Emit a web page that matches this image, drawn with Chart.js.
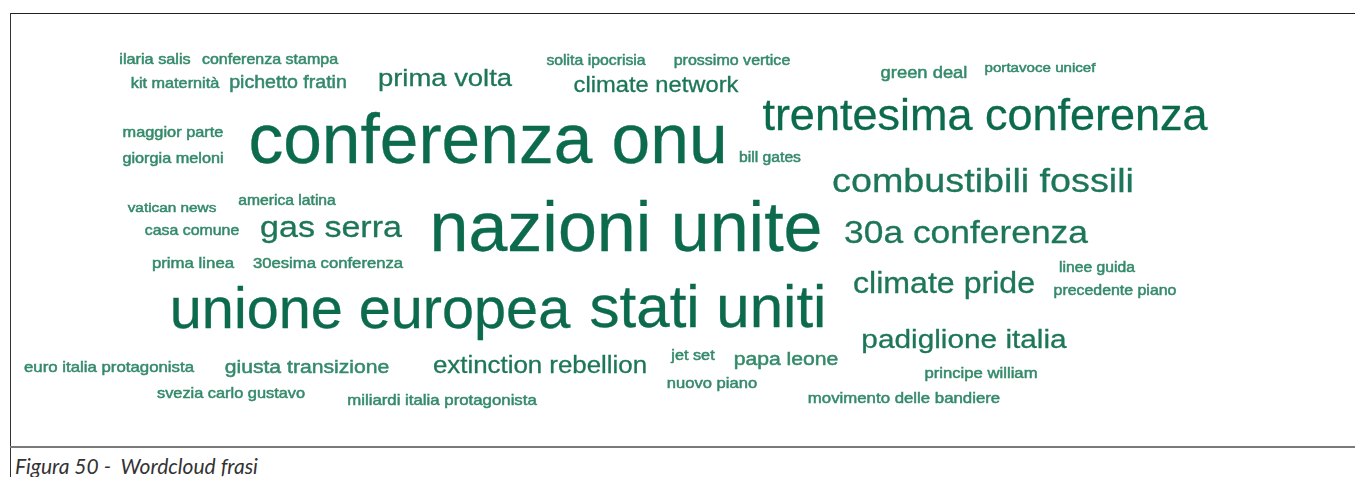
<!DOCTYPE html>
<html>
<head>
    <title>Wordcloud frasi</title>
    <script src="https://cdn.jsdelivr.net/npm/chart.js"></script>
    <style>
        body { margin: 0; background: #fff; width: 1355px; height: 477px; overflow: hidden; position: relative; }
        #wrap { position: absolute; left: 0; top: 0; width: 1355px; height: 447px; }
        .topline { position: absolute; left: 10px; top: 13px; width: 1345px; height: 0; border-top: 1.5px solid #222; }
        .leftline { position: absolute; left: 10px; top: 13px; width: 0; height: 464px; border-left: 1.5px solid #333; }
        .bottomline { position: absolute; left: 10px; top: 446px; width: 1345px; height: 0; border-top: 2px solid #7a7a7a; }
        .caption { position: absolute; left: 15px; top: 453px; font-family: Lato, "Open Sans", sans-serif; font-style: italic; font-size: 21px; color: #333; white-space: pre; }
    </style>
</head>
<body>
    <div id="wrap"><canvas id="cloud"></canvas></div>
    <div class="topline"></div>
    <div class="leftline"></div>
    <div class="bottomline"></div>
    <div class="caption">Figura 50 -  Wordcloud frasi</div>
    <script>
        // phrases and their weight (font size in px)
        const words = [
            'ilaria salis', 'conferenza stampa', 'kit maternità', 'pichetto fratin', 'prima volta',
            'solita ipocrisia', 'prossimo vertice', 'climate network', 'green deal', 'portavoce unicef',
            'maggior parte', 'giorgia meloni', 'conferenza onu', 'bill gates', 'trentesima conferenza',
            'combustibili fossili', 'vatican news', 'america latina', 'casa comune', 'gas serra',
            'prima linea', '30esima conferenza', 'nazioni unite', '30a conferenza', 'climate pride',
            'linee guida', 'precedente piano', 'unione europea', 'stati uniti', 'padiglione italia',
            'euro italia protagonista', 'giusta transizione', 'svezia carlo gustavo', 'extinction rebellion',
            'miliardi italia protagonista', 'jet set', 'nuovo piano', 'papa leone', 'principe william',
            'movimento delle bandiere'
        ];
        const weights = [
            14.5, 14.3, 14.5, 17.5, 24.5,
            14.1, 14.3, 21.2, 16.4, 13.5,
            14.6, 14.5, 69.5, 14, 45,
            33.7, 13.7, 14, 14.2, 30.4,
            15, 14.9, 70, 31.6, 28.7,
            14, 14.2, 57.6, 60, 26.6,
            15, 18.9, 14.6, 23.1,
            15, 14.5, 14.8, 18.9, 14.9,
            15
        ];
        // centre x and baseline y of every phrase (page pixels)
        const xs = [
            155, 270, 175, 288, 445,
            596, 732, 656, 924, 1040,
            173, 173, 488, 770, 985,
            983, 172, 287, 192, 331,
            193, 328, 626, 966, 944,
            1097, 1115, 370, 708, 964,
            109, 307, 231, 540,
            442, 693, 712, 786, 981,
            904
        ];
        const ys = [
            64, 64, 88, 88, 86,
            65, 65, 92, 78, 72,
            137, 163, 163, 162, 130,
            192, 212, 205, 235, 237,
            268, 268, 251, 243, 293,
            272, 295, 328, 327, 348,
            372, 373, 398, 373,
            405, 360, 388, 365, 378,
            403
        ];

        const cloudText = {
            id: 'cloudText',
            afterDatasetsDraw(chart) {
                const ctx = chart.ctx;
                const meta = chart.getDatasetMeta(0);
                ctx.save();
                ctx.textAlign = 'center';
                ctx.textBaseline = 'alphabetic';
                ctx.filter = 'blur(0.4px)';
                meta.data.forEach((pt, i) => {
                    const size = weights[i];
                    const stretch = size < 40 ? 1.12 : 1.0;
                    const col = size >= 40 ? '#0c6a4d' : (size >= 20 ? '#1d7659' : '#348a6b');
                    ctx.fillStyle = col;
                    ctx.strokeStyle = col;
                    ctx.lineWidth = size < 20 ? 0.5 : 0.3;
                    ctx.font = size + 'px "Liberation Sans", Arial, sans-serif';
                    ctx.save();
                    ctx.translate(pt.x, pt.y);
                    ctx.scale(stretch, 1);
                    ctx.fillText(words[i], 0, 0);
                    ctx.strokeText(words[i], 0, 0);
                    ctx.restore();
                });
                ctx.restore();
            }
        };

        new Chart(document.getElementById('cloud'), {
            type: 'scatter',
            data: {
                datasets: [{
                    data: words.map((w, i) => ({ x: xs[i], y: ys[i] })),
                    pointRadius: 0
                }]
            },
            options: {
                responsive: true,
                maintainAspectRatio: false,
                animation: false,
                layout: { padding: 0 },
                plugins: { legend: { display: false }, tooltip: { enabled: false } },
                scales: {
                    x: { type: 'linear', min: 0, max: 1355, display: false },
                    y: { type: 'linear', min: 0, max: 447, reverse: true, display: false }
                }
            },
            plugins: [cloudText]
        });
    </script>
</body>
</html>
